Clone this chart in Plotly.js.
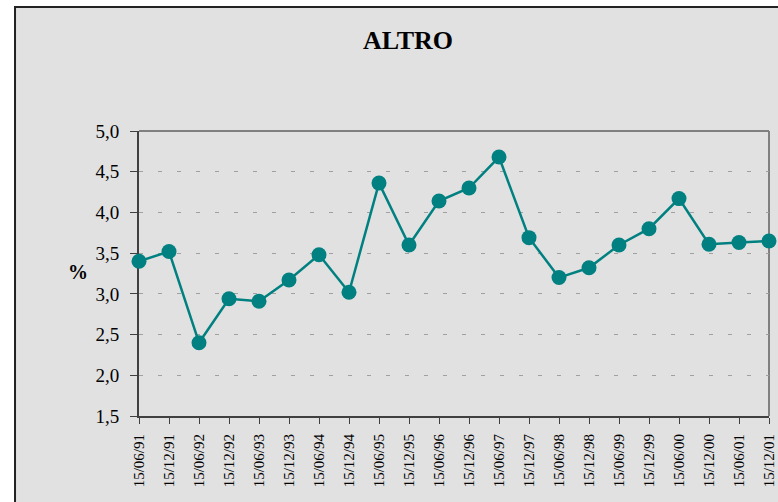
<!DOCTYPE html>
<html>
<head>
<meta charset="utf-8">
<script src="https://cdn.plot.ly/plotly-3.0.1.min.js"></script>
<style>html,body{margin:0;padding:0;background:#fff;}#chart{width:778px;height:502px;}</style>
</head>
<body>
<div id="chart"></div>
<script>
const dates = ["15/06/91","15/12/91","15/06/92","15/12/92","15/06/93","15/12/93","15/06/94","15/12/94","15/06/95","15/12/95","15/06/96","15/12/96","15/06/97","15/12/97","15/06/98","15/12/98","15/06/99","15/12/99","15/06/00","15/12/00","15/06/01","15/12/01"];
const altro = [3.40,3.52,2.40,2.94,2.91,3.17,3.48,3.02,4.36,3.60,4.14,4.30,4.68,3.69,3.20,3.32,3.60,3.80,4.17,3.61,3.63,3.65];
const yTicks = [1.5,2.0,2.5,3.0,3.5,4.0,4.5,5.0];

const serif = "Liberation Serif";
const teal = "#008080";

const trace = {
  type: "scatter",
  mode: "lines+markers",
  x: dates,
  y: altro,
  line: {color: teal, width: 2.5},
  marker: {color: teal, size: 15},
  cliponaxis: false,
  hoverinfo: "x+y"
};

const layout = {
  width: 778, height: 502,
  margin: {l: 139, r: 9, t: 131, b: 86, pad: 0},
  paper_bgcolor: "#ffffff",
  plot_bgcolor: "rgba(0,0,0,0)",
  showlegend: false,
  separators: ",.",
  font: {family: serif, color: "#000"},
  title: {text: "<b>ALTRO</b>", font: {family: serif, size: 26, color: "#000"}, xref: "paper", x: 0.427, xanchor: "center", yref: "container", y: 0.921, yanchor: "middle"},
  xaxis: {
    type: "category",
    categoryorder: "array",
    categoryarray: dates,
    range: [0, dates.length - 1],
    showgrid: false,
    zeroline: false,
    showline: true, linecolor: "#404040", linewidth: 2,
    ticks: "outside", ticklen: 6, tickwidth: 1, tickcolor: "#404040",
    tickangle: -90,
    tickfont: {family: serif, size: 15, color: "#000"},
    ticklabelstandoff: 4,
    layer: "below traces",
    fixedrange: true
  },
  yaxis: {
    range: [1.5, 5.0],
    tickvals: yTicks,
    tickformat: ".1f",
    showgrid: true, gridcolor: "#a0a0a0", gridwidth: 1, griddash: "4px,15px",
    zeroline: false,
    showline: true, linecolor: "#404040", linewidth: 2,
    ticks: "outside", ticklen: 7, tickwidth: 1, tickcolor: "#404040",
    tickfont: {family: serif, size: 19, color: "#000"},
    ticklabelstandoff: 7,
    layer: "below traces",
    fixedrange: true
  },
  shapes: [
    {type: "rect", xref: "paper", yref: "paper", x0: -0.1968, x1: 1.2, y0: -0.5, y1: 1.435,
     fillcolor: "#e1e1e1", line: {color: "#222", width: 2}, layer: "below"},
    {type: "line", xref: "paper", yref: "paper", x0: 0, x1: 1, y0: 1, y1: 1,
     line: {color: "#808080", width: 2}, layer: "below"},
    {type: "line", xref: "paper", yref: "paper", x0: 1, x1: 1, y0: 0, y1: 1,
     line: {color: "#808080", width: 2}, layer: "below"}
  ],
  annotations: [
    {text: "<b>%</b>", xref: "paper", yref: "paper", x: -0.0968, y: 0.505, xanchor: "center", yanchor: "middle",
     showarrow: false, font: {family: serif, size: 20, color: "#000"}}
  ]
};

Plotly.newPlot("chart", [trace], layout, {displayModeBar: false, staticPlot: true});
</script>
</body>
</html>
